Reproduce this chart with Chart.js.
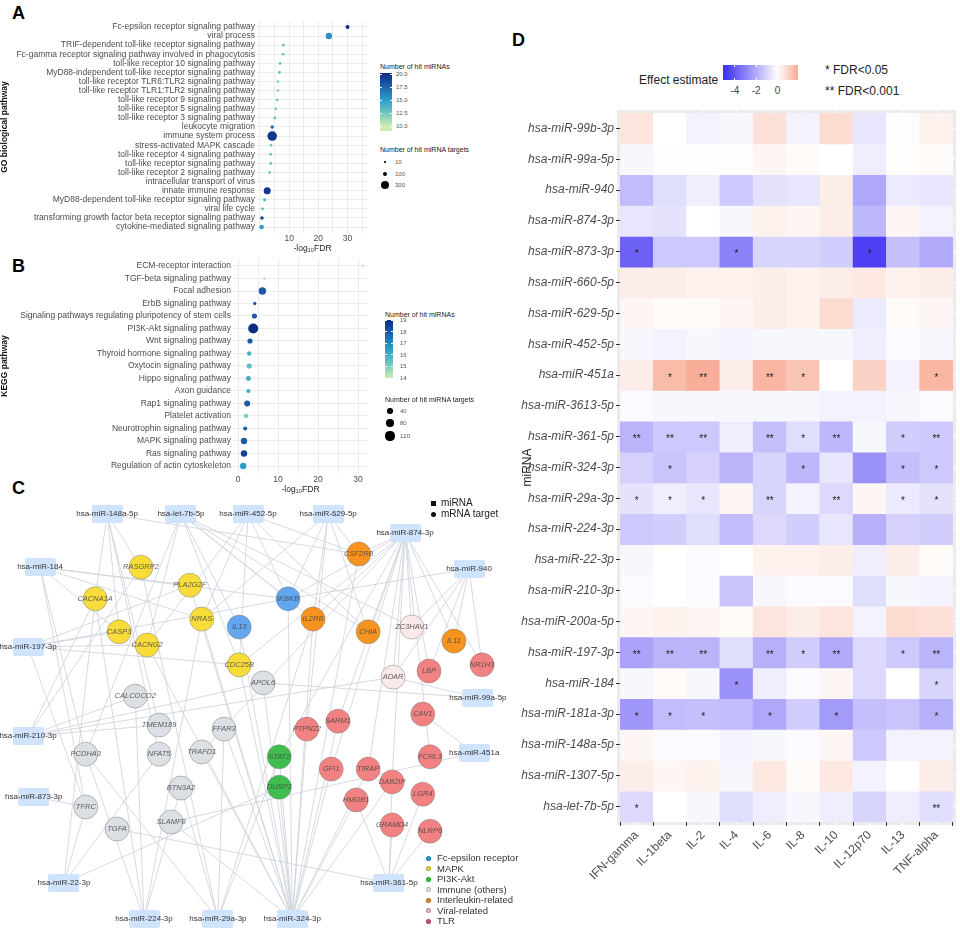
<!DOCTYPE html>
<html>
<head>
<meta charset="utf-8">
<script src="https://cdn.jsdelivr.net/npm/chart.js@4.4.1/dist/chart.umd.min.js"></script>
<style>
  html, body { margin: 0; background: #fff; }
  #fig { position: relative; width: 960px; height: 935px; overflow: hidden; font-family: "Liberation Sans", Arial, sans-serif; }
  canvas { position: absolute; }
  .t { position: absolute; white-space: nowrap; line-height: 1; transform: translateY(-50%); color: #222; }
  .tag { position: absolute; font-weight: bold; font-size: 18px; color: #000; line-height: 1; }
</style>
</head>
<body>
<div id="fig">
  <div class="tag" style="left:12px;top:4px">A</div>
  <div class="tag" style="left:12px;top:257px">B</div>
  <div class="tag" style="left:12px;top:479px">C</div>
  <div class="tag" style="left:512px;top:31px">D</div>
  <canvas id="goChart" width="375" height="240" style="left:0;top:14px"></canvas>
  <canvas id="keggChart" width="375" height="245" style="left:0;top:250px"></canvas>
  <canvas id="netChart" width="520" height="440" style="left:0;top:495px"></canvas>
  <canvas id="heatChart" width="440" height="835" style="left:520px;top:100px"></canvas>
</div>
<script>
const FONT = '"Liberation Sans", Arial, sans-serif';
Chart.defaults.font.family = FONT;
Chart.defaults.plugins.legend.display = false;
Chart.defaults.plugins.tooltip.enabled = false;

// ---- A: GO biological pathway ----
const goTerms = [
  'Fc-epsilon receptor signaling pathway', 'viral process',
  'TRIF-dependent toll-like receptor signaling pathway',
  'Fc-gamma receptor signaling pathway involved in phagocytosis',
  'toll-like receptor 10 signaling pathway', 'MyD88-independent toll-like receptor signaling pathway',
  'toll-like receptor TLR6:TLR2 signaling pathway', 'toll-like receptor TLR1:TLR2 signaling pathway',
  'toll-like receptor 9 signaling pathway', 'toll-like receptor 5 signaling pathway',
  'toll-like receptor 3 signaling pathway', 'leukocyte migration', 'immune system process',
  'stress-activated MAPK cascade', 'toll-like receptor 4 signaling pathway',
  'toll-like receptor signaling pathway', 'toll-like receptor 2 signaling pathway',
  'intracellular transport of virus', 'innate immune response',
  'MyD88-dependent toll-like receptor signaling pathway', 'viral life cycle',
  'transforming growth factor beta receptor signaling pathway', 'cytokine-mediated signaling pathway'
];
const goFdr = [30.0, 23.6, 8.0, 7.9, 6.9, 6.7, 6.2, 6.2, 5.9, 5.4, 5.1, 4.2, 4.2, 3.8, 3.7, 3.7, 3.3, 2.9, 2.5, 1.6, 0.9, 0.7, 0.6];
const goHits = [20, 15.5, 13, 13, 13, 13, 12.5, 12.5, 13, 13, 13, 17.5, 19.5, 13, 13, 13, 13, 10, 19.5, 13.5, 13, 19, 15];
const goTargets = [65, 165, 30, 30, 28, 30, 25, 25, 28, 28, 28, 45, 370, 28, 30, 30, 28, 8, 200, 40, 35, 50, 80];
const goHitTicks = [20, 17.5, 15, 12.5, 10];
const goSizeTicks = [10, 100, 300];

// ---- B: KEGG pathway ----
const keggTerms = [
  'ECM-receptor interaction', 'TGF-beta signaling pathway', 'Focal adhesion', 'ErbB signaling pathway',
  'Signaling pathways regulating pluripotency of stem cells', 'PI3K-Akt signaling pathway',
  'Wnt signaling pathway', 'Thyroid hormone signaling pathway', 'Oxytocin signaling pathway',
  'Hippo signaling pathway', 'Axon guidance', 'Rap1 signaling pathway', 'Platelet activation',
  'Neurotrophin signaling pathway', 'MAPK signaling pathway', 'Ras signaling pathway',
  'Regulation of actin cytoskeleton'
];
const keggFdr = [31.2, 6.6, 6.1, 4.2, 4.1, 3.8, 3.0, 2.8, 2.8, 2.6, 2.6, 2.3, 2.0, 1.8, 1.5, 1.5, 1.3];
const keggHits = [14, 15, 18, 18, 18, 19, 18, 16, 15.5, 16, 16, 18, 15, 18, 18, 18.5, 16.5];
const keggTargets = [8, 5, 78, 15, 38, 140, 38, 27, 38, 35, 25, 51, 30, 23, 58, 58, 58];
const keggHitTicks = [19, 18, 17, 16, 15, 14];
const keggSizeTicks = [40, 80, 120];

// ---- C: network (layout coordinates 0-100) ----
const mirNames = ['hsa-miR-148a-5p', 'hsa-let-7b-5p', 'hsa-miR-452-5p', 'hsa-miR-629-5p', 'hsa-miR-874-3p',
  'hsa-miR-940', 'hsa-miR-184', 'hsa-miR-197-3p', 'hsa-miR-99a-5p', 'hsa-miR-451a', 'hsa-miR-210-3p',
  'hsa-miR-873-3p', 'hsa-miR-22-3p', 'hsa-miR-224-3p', 'hsa-miR-29a-3p', 'hsa-miR-324-3p', 'hsa-miR-361-5p'];
const mirX = [20.6, 34.8, 47.7, 63.1, 77.9, 90.2, 7.7, 5.4, 91.9, 91.2, 5.4, 6.5, 12.3, 27.7, 41.9, 56.2, 74.8];
const mirY = [4.3, 4.3, 4.3, 4.3, 8.6, 16.8, 16.4, 34.5, 46.1, 58.6, 54.8, 68.6, 88.2, 96.4, 96.4, 96.4, 88.2];

const geneNames = ['RASGRP2', 'PLA2G2F', 'CACNA1A', 'NRAS', 'CASP3', 'CACNG2', 'CDC25B',
  'IL13', 'IKBKB', 'CSF2RB', 'IL2RB', 'CHIA', 'IL11', 'ZC3HAV1', 'ADAR',
  'LBP', 'NR1H3', 'CAV1', 'SARM1', 'PTPN22', 'FCRL3', 'GFI1', 'TIRAP', 'DAB2IP', 'LGR4', 'HMGB1', 'GRAMD4', 'NLRP6',
  'STAT2', 'DUSP3',
  'APOL6', 'CALCOCO2', 'TMEM189', 'FFAR3', 'PCDHA3', 'NFAT5', 'TRAFD1', 'BTN3A2', 'TFRC', 'TGFA', 'SLAMF8'];
const geneGroup = ['MAPK', 'MAPK', 'MAPK', 'MAPK', 'MAPK', 'MAPK', 'MAPK',
  'Fc', 'Fc', 'IL', 'IL', 'IL', 'IL', 'Viral', 'Viral',
  'TLR', 'TLR', 'TLR', 'TLR', 'TLR', 'TLR', 'TLR', 'TLR', 'TLR', 'TLR', 'TLR', 'TLR', 'TLR',
  'PI3K', 'PI3K',
  'Imm', 'Imm', 'Imm', 'Imm', 'Imm', 'Imm', 'Imm', 'Imm', 'Imm', 'Imm', 'Imm'];
const geneX = [27.1, 36.5, 18.3, 38.8, 22.9, 28.3, 46.0, 46.0, 55.4, 69.0, 60.2, 70.8, 87.3, 79.2, 75.6,
  82.5, 92.7, 81.3, 65.0, 59.0, 82.7, 63.7, 70.8, 75.4, 81.3, 68.5, 75.4, 82.7, 53.7, 53.7,
  50.6, 26.0, 30.6, 43.1, 16.5, 30.6, 38.8, 34.8, 16.5, 22.5, 32.9];
const geneY = [16.4, 20.5, 23.6, 28.2, 31.1, 34.1, 38.6, 30.0, 23.6, 13.4, 28.2, 31.1, 33.2, 30.0, 41.4,
  40.0, 38.6, 49.8, 51.4, 53.2, 59.5, 62.3, 62.3, 65.2, 68.0, 69.3, 75.0, 76.4, 59.5, 66.4,
  42.7, 45.7, 52.3, 53.2, 58.9, 58.9, 58.4, 66.6, 70.9, 75.9, 74.3];

const edges = [
  ['hsa-miR-148a-5p', 'RASGRP2'], ['hsa-miR-148a-5p', 'CACNA1A'], ['hsa-miR-148a-5p', 'CASP3'], ['hsa-miR-148a-5p', 'NFAT5'],
  ['hsa-miR-148a-5p', 'CSF2RB'], ['hsa-miR-148a-5p', 'TMEM189'],
  ['hsa-let-7b-5p', 'CACNG2'], ['hsa-let-7b-5p', 'IL13'], ['hsa-let-7b-5p', 'IKBKB'], ['hsa-let-7b-5p', 'CHIA'],
  ['hsa-let-7b-5p', 'PCDHA3'], ['hsa-let-7b-5p', 'CDC25B'], ['hsa-let-7b-5p', 'ZC3HAV1'], ['hsa-let-7b-5p', 'IL2RB'],
  ['hsa-miR-184', 'PLA2G2F'], ['hsa-miR-184', 'IKBKB'], ['hsa-miR-184', 'TFRC'], ['hsa-miR-184', 'PCDHA3'],
  ['hsa-miR-184', 'CASP3'], ['hsa-miR-184', 'NRAS'],
  ['hsa-miR-197-3p', 'CASP3'], ['hsa-miR-197-3p', 'CACNG2'], ['hsa-miR-197-3p', 'PLA2G2F'], ['hsa-miR-197-3p', 'IKBKB'],
  ['hsa-miR-197-3p', 'CDC25B'], ['hsa-miR-197-3p', 'TFRC'],
  ['hsa-miR-210-3p', 'CALCOCO2'], ['hsa-miR-210-3p', 'TMEM189'], ['hsa-miR-210-3p', 'CACNA1A'], ['hsa-miR-210-3p', 'APOL6'],
  ['hsa-miR-210-3p', 'RASGRP2'], ['hsa-miR-210-3p', 'ADAR'],
  ['hsa-miR-873-3p', 'TFRC'],
  ['hsa-miR-22-3p', 'TFRC'], ['hsa-miR-22-3p', 'NFAT5'], ['hsa-miR-22-3p', 'CACNA1A'], ['hsa-miR-22-3p', 'DUSP3'],
  ['hsa-miR-224-3p', 'CACNA1A'], ['hsa-miR-224-3p', 'CALCOCO2'], ['hsa-miR-224-3p', 'PCDHA3'], ['hsa-miR-224-3p', 'BTN3A2'],
  ['hsa-miR-224-3p', 'NRAS'],
  ['hsa-miR-29a-3p', 'BTN3A2'], ['hsa-miR-29a-3p', 'PCDHA3'], ['hsa-miR-29a-3p', 'FFAR3'], ['hsa-miR-29a-3p', 'RASGRP2'],
  ['hsa-miR-29a-3p', 'IL2RB'], ['hsa-miR-29a-3p', 'STAT2'],
  ['hsa-miR-324-3p', 'NRAS'], ['hsa-miR-324-3p', 'CDC25B'], ['hsa-miR-324-3p', 'IL13'], ['hsa-miR-324-3p', 'IKBKB'],
  ['hsa-miR-324-3p', 'IL2RB'], ['hsa-miR-324-3p', 'STAT2'], ['hsa-miR-324-3p', 'DUSP3'], ['hsa-miR-324-3p', 'GFI1'],
  ['hsa-miR-324-3p', 'PTPN22'], ['hsa-miR-324-3p', 'HMGB1'], ['hsa-miR-324-3p', 'TIRAP'], ['hsa-miR-324-3p', 'FFAR3'],
  ['hsa-miR-324-3p', 'TRAFD1'], ['hsa-miR-324-3p', 'SLAMF8'], ['hsa-miR-324-3p', 'APOL6'], ['hsa-miR-324-3p', 'CSF2RB'],
  ['hsa-miR-324-3p', 'CACNG2'], ['hsa-miR-324-3p', 'PLA2G2F'], ['hsa-miR-324-3p', 'DAB2IP'], ['hsa-miR-324-3p', 'SARM1'],
  ['hsa-miR-361-5p', 'LGR4'], ['hsa-miR-361-5p', 'HMGB1'], ['hsa-miR-361-5p', 'DAB2IP'], ['hsa-miR-361-5p', 'TGFA'],
  ['hsa-miR-361-5p', 'NLRP6'], ['hsa-miR-361-5p', 'GRAMD4'],
  ['hsa-miR-451a', 'CAV1'], ['hsa-miR-451a', 'SLAMF8'],
  ['hsa-miR-99a-5p', 'APOL6'], ['hsa-miR-99a-5p', 'ADAR'],
  ['hsa-miR-940', 'LBP'], ['hsa-miR-940', 'NR1H3'], ['hsa-miR-940', 'IL11'], ['hsa-miR-940', 'ZC3HAV1'],
  ['hsa-miR-940', 'IKBKB'], ['hsa-miR-940', 'ADAR'],
  ['hsa-miR-874-3p', 'IKBKB'], ['hsa-miR-874-3p', 'IL2RB'], ['hsa-miR-874-3p', 'CHIA'], ['hsa-miR-874-3p', 'ZC3HAV1'],
  ['hsa-miR-874-3p', 'IL11'], ['hsa-miR-874-3p', 'NR1H3'], ['hsa-miR-874-3p', 'ADAR'], ['hsa-miR-874-3p', 'CDC25B'],
  ['hsa-miR-874-3p', 'CSF2RB'], ['hsa-miR-874-3p', 'STAT2'], ['hsa-miR-874-3p', 'GFI1'], ['hsa-miR-874-3p', 'SARM1'],
  ['hsa-miR-874-3p', 'TIRAP'], ['hsa-miR-874-3p', 'DAB2IP'], ['hsa-miR-874-3p', 'LBP'], ['hsa-miR-874-3p', 'FCRL3'],
  ['hsa-miR-874-3p', 'TRAFD1'],
  ['hsa-miR-629-5p', 'IKBKB'], ['hsa-miR-629-5p', 'IL2RB'], ['hsa-miR-629-5p', 'CSF2RB'], ['hsa-miR-629-5p', 'CHIA'],
  ['hsa-miR-629-5p', 'NRAS'], ['hsa-miR-629-5p', 'PTPN22'],
  ['hsa-miR-452-5p', 'NRAS'], ['hsa-miR-452-5p', 'IKBKB'], ['hsa-miR-452-5p', 'CHIA'], ['hsa-miR-452-5p', 'CSF2RB'],
  ['hsa-miR-452-5p', 'CDC25B'], ['hsa-miR-452-5p', 'CACNG2']
];

// ---- D: heatmap ----
const cytokines = ['IFN-gamma', 'IL-1beta', 'IL-2', 'IL-4', 'IL-6', 'IL-8', 'IL-10', 'IL-12p70', 'IL-13', 'TNF-alpha'];
const heatRows = ['hsa-miR-99b-3p', 'hsa-miR-99a-5p', 'hsa-miR-940', 'hsa-miR-874-3p', 'hsa-miR-873-3p',
  'hsa-miR-660-5p', 'hsa-miR-629-5p', 'hsa-miR-452-5p', 'hsa-miR-451a', 'hsa-miR-3613-5p', 'hsa-miR-361-5p',
  'hsa-miR-324-3p', 'hsa-miR-29a-3p', 'hsa-miR-224-3p', 'hsa-miR-22-3p', 'hsa-miR-210-3p', 'hsa-miR-200a-5p',
  'hsa-miR-197-3p', 'hsa-miR-184', 'hsa-miR-181a-3p', 'hsa-miR-148a-5p', 'hsa-miR-1307-5p', 'hsa-let-7b-5p'];
const effects = [
  [0.6, 0.0, -0.3, -0.2, 0.7, -0.3, 0.8, -0.6, -0.05, 0.3],
  [-0.2, -0.05, -0.05, -0.05, 0.2, 0.1, 0.0, -0.4, 0.05, 0.1],
  [-1.6, -0.8, -0.4, -1.3, -0.7, -0.6, 0.4, -2.1, -0.5, -0.6],
  [-0.6, -0.7, 0.0, -0.2, 0.3, 0.2, 0.4, -1.7, 0.2, -0.3],
  [-3.8, -1.3, -1.3, -3.0, -1.0, -1.0, -1.2, -4.6, -1.5, -2.0],
  [0.4, 0.4, 0.3, 0.3, 0.4, 0.3, 0.4, 0.5, 0.3, 0.4],
  [0.2, 0.1, 0.1, 0.2, 0.4, 0.3, 0.8, -0.5, 0.1, 0.2],
  [-0.2, -0.3, -0.2, -0.3, -0.2, -0.2, -0.2, -0.4, -0.1, -0.2],
  [0.4, 1.5, 1.8, 0.4, 1.6, 1.3, 0.0, 1.0, -0.3, 1.6],
  [-0.1, -0.2, -0.2, -0.2, -0.2, -0.2, -0.3, -0.3, -0.2, -0.1],
  [-1.8, -1.3, -1.3, -0.4, -1.5, -0.8, -1.7, -0.2, -1.2, -1.3],
  [-1.1, -1.4, -1.1, -1.8, -1.0, -1.7, -0.6, -2.6, -1.5, -1.3],
  [-0.7, -0.4, -0.6, 0.2, -1.0, -0.3, -0.9, 0.2, -0.5, -0.7],
  [-1.3, -1.2, -0.8, -1.6, -0.9, -1.2, -0.6, -1.9, -1.1, -1.2],
  [-0.2, 0.0, -0.1, 0.0, 0.3, 0.3, 0.4, -0.4, 0.4, 0.1],
  [-0.1, 0.0, -0.1, -1.4, -0.2, -0.1, -0.1, -0.8, -0.2, -0.3],
  [0.2, 0.3, 0.2, 0.1, 0.6, 0.4, 0.6, -0.3, 0.8, 0.7],
  [-2.2, -1.8, -1.8, -0.8, -1.9, -1.2, -2.0, -0.9, -1.3, -1.8],
  [-0.2, 0.1, -0.2, -2.6, -0.4, -0.1, 0.2, -0.9, 0.0, -1.0],
  [-2.5, -1.6, -1.5, -1.6, -2.1, -1.2, -2.4, -1.5, -1.4, -1.9],
  [0.2, -0.1, -0.1, -0.3, -0.2, -0.1, 0.2, -1.3, -0.3, -0.3],
  [0.4, 0.2, 0.3, -0.2, 0.5, 0.1, 0.5, -0.3, 0.0, 0.4],
  [-0.9, 0.0, -0.2, -0.8, -0.4, -0.2, -0.4, -1.0, -0.4, -0.8]
];
// 0 = n.s., 1 = FDR<0.05, 2 = FDR<0.001
const signif = [
  [0, 0, 0, 0, 0, 0, 0, 0, 0, 0],
  [0, 0, 0, 0, 0, 0, 0, 0, 0, 0],
  [0, 0, 0, 0, 0, 0, 0, 0, 0, 0],
  [0, 0, 0, 0, 0, 0, 0, 0, 0, 0],
  [1, 0, 0, 1, 0, 0, 0, 1, 0, 0],
  [0, 0, 0, 0, 0, 0, 0, 0, 0, 0],
  [0, 0, 0, 0, 0, 0, 0, 0, 0, 0],
  [0, 0, 0, 0, 0, 0, 0, 0, 0, 0],
  [0, 1, 2, 0, 2, 1, 0, 0, 0, 1],
  [0, 0, 0, 0, 0, 0, 0, 0, 0, 0],
  [2, 2, 2, 0, 2, 1, 2, 0, 1, 2],
  [0, 1, 0, 0, 0, 1, 0, 0, 1, 1],
  [1, 1, 1, 0, 2, 0, 2, 0, 1, 1],
  [0, 0, 0, 0, 0, 0, 0, 0, 0, 0],
  [0, 0, 0, 0, 0, 0, 0, 0, 0, 0],
  [0, 0, 0, 0, 0, 0, 0, 0, 0, 0],
  [0, 0, 0, 0, 0, 0, 0, 0, 0, 0],
  [2, 2, 2, 0, 2, 1, 2, 0, 1, 2],
  [0, 0, 0, 1, 0, 0, 0, 0, 0, 1],
  [1, 1, 1, 0, 1, 0, 1, 0, 0, 1],
  [0, 0, 0, 0, 0, 0, 0, 0, 0, 0],
  [0, 0, 0, 0, 0, 0, 0, 0, 0, 0],
  [1, 0, 0, 0, 0, 0, 0, 0, 0, 2]
];
const effectTicks = [-4, -2, 0];

// ---------- colour helpers ----------
const ramp = [[0, [205, 236, 178]], [0.25, [112, 198, 190]], [0.5, [42, 158, 200]], [0.75, [33, 100, 172]], [1, [12, 44, 132]]];
function rampColor(t) {
  t = Math.max(0, Math.min(1, t));
  for (let i = 1; i < ramp.length; i++) {
    if (t <= ramp[i][0]) {
      const a = ramp[i - 1], b = ramp[i], f = (t - a[0]) / (b[0] - a[0]);
      return 'rgb(' + a[1].map((c, k) => Math.round(c + (b[1][k] - c) * f)).join(',') + ')';
    }
  }
  return 'rgb(' + ramp[ramp.length - 1][1].join(',') + ')';
}
function mix(a, b, t) {
  return 'rgb(' + a.map((c, k) => Math.round(c + (b[k] - c) * t)).join(',') + ')';
}
function heatColor(v) {
  if (v < 0) return mix([255, 255, 255], [62, 46, 242], Math.min(1, -v / 5));
  return mix([255, 255, 255], [247, 165, 140], Math.min(1, v / 2));
}
const groupFill = {MAPK: '#f8dc3a', Fc: '#62a6ef', IL: '#f7931f', Viral: '#fbe9e9', TLR: '#f28282', PI3K: '#3fbd4e', Imm: '#dcdfe4'};

// ---------- html legend helpers ----------
const fig = document.getElementById('fig');
function addText(x, y, str, size, extra) {
  const d = document.createElement('div');
  d.className = 't';
  d.textContent = str;
  d.style.left = x + 'px';
  d.style.top = y + 'px';
  d.style.fontSize = size + 'px';
  if (extra) Object.assign(d.style, extra);
  fig.appendChild(d);
  return d;
}
function addBox(x, y, w, h, style) {
  const d = document.createElement('div');
  Object.assign(d.style, {position: 'absolute', left: x + 'px', top: y + 'px', width: w + 'px', height: h + 'px'}, style);
  fig.appendChild(d);
  return d;
}
function barGradient(lo, hi, top, bottom, colorOf) {
  const stops = [];
  for (let i = 0; i <= 10; i++) {
    const v = top + (bottom - top) * i / 10;
    stops.push(colorOf(v) + ' ' + (i * 10) + '%');
  }
  return 'linear-gradient(to bottom,' + stops.join(',') + ')';
}

const radiusGo = n => Math.max(0.8, 4.3 * Math.sqrt(n / 300));
const radiusKegg = n => Math.max(0.8, 0.42 * Math.sqrt(n));

// ---------- dot charts (A, B) ----------
function dotChart(id, terms, fdr, hits, targets, o) {
  return new Chart(document.getElementById(id), {
    type: 'bubble',
    data: {
      datasets: [{
        data: terms.map((t, i) => ({x: fdr[i], y: i, r: o.radius(targets[i])})),
        backgroundColor: hits.map(h => rampColor((h - o.lo) / (o.hi - o.lo))),
        borderWidth: 0
      }]
    },
    options: {
      responsive: false, animation: false, devicePixelRatio: 1,
      layout: {autoPadding: false, padding: {top: o.padTop, right: 7, left: 0, bottom: 0}},
      scales: {
        x: {
          type: 'linear', min: o.xmin, max: o.xmax,
          afterBuildTicks: s => { s.ticks = [0, 5, 10, 15, 20, 25, 30, 35].filter(v => v >= o.xmin && v <= o.xmax).map(v => ({value: v})); },
          ticks: {callback: v => o.xlabels.includes(v) ? String(v) : '', font: {size: 8.5}, color: '#4d4d4d', padding: 1, maxRotation: 0, autoSkip: false},
          grid: {color: '#ececec', drawTicks: false},
          border: {display: false},
          title: {display: true, text: '-log\u2081\u2080FDR', font: {size: 8.5}, color: '#222', padding: 0},
          afterFit: s => { s.height = o.xh; }
        },
        y: {
          type: 'linear', min: -0.6, max: terms.length - 0.4, reverse: true,
          afterBuildTicks: s => { s.ticks = terms.map((t, i) => ({value: i})); },
          ticks: {callback: v => terms[v], font: {size: 8.5}, color: '#4d4d4d', padding: 2, autoSkip: false},
          grid: {color: '#ececec', drawTicks: false},
          border: {display: false},
          title: {display: true, text: o.ytitle, font: {size: 8.5, weight: 'bold'}, color: '#111', padding: 0},
          afterFit: s => { s.width = o.yw; }
        }
      }
    }
  });
}

dotChart('goChart', goTerms, goFdr, goHits, goTargets, {
  radius: radiusGo, lo: 10, hi: 20, padTop: 7.5, xmin: -1, xmax: 37, xlabels: [10, 20, 30], xh: 21.5, yw: 257,
  ytitle: 'GO biological pathway'
});
dotChart('keggChart', keggTerms, keggFdr, keggHits, keggTargets, {
  radius: radiusKegg, lo: 14, hi: 19, padTop: 8.5, xmin: -1.25, xmax: 32.5, xlabels: [0, 10, 20, 30], xh: 21.5, yw: 233,
  ytitle: 'KEGG pathway'
});

// legend A
addText(380, 66, 'Number of hit miRNAs', 7);
addBox(380, 73, 12, 58, {background: barGradient(10, 20, 20.2, 9.0, v => rampColor((v - 10) / 10))});
goHitTicks.forEach(v => {
  const y = 74 + (20 - v) * 5.2;
  addText(396, y, v.toFixed(1), 6, {color: '#555'});
  addBox(380, y - 0.5, 2, 1, {background: '#fff'});
  addBox(390, y - 0.5, 2, 1, {background: '#fff'});
});
addText(380, 149, 'Number of hit miRNA targets', 7);
goSizeTicks.forEach((n, i) => {
  const r = radiusGo(n), y = [162, 174, 185][i];
  addBox(385 - r, y - r, 2 * r, 2 * r, {background: '#000', borderRadius: '50%'});
  addText(395, y, String(n), 6, {color: '#555'});
});

// legend B
addText(385, 314, 'Number of hit miRNAs', 7);
addBox(385, 320, 8, 58, {background: barGradient(14, 19, 19, 14, v => rampColor((v - 14) / 5))});
keggHitTicks.forEach(v => {
  const y = 320 + (19 - v) * 11.6;
  addText(400, y, String(v), 6, {color: '#555'});
  addBox(385, y - 0.5, 2, 1, {background: '#fff'});
  addBox(391, y - 0.5, 2, 1, {background: '#fff'});
});
addText(385, 399, 'Number of hit miRNA targets', 7);
keggSizeTicks.forEach((n, i) => {
  const r = radiusKegg(n), y = [411, 423, 436][i];
  addBox(390 - r, y - r, 2 * r, 2 * r, {background: '#000', borderRadius: '50%'});
  addText(400, y, String(n), 6, {color: '#555'});
});

// ---------- C: network ----------
const mirIndex = {}, geneIndex = {};
mirNames.forEach((n, i) => { mirIndex[n] = i; });
geneNames.forEach((n, i) => { geneIndex[n] = i; });
const nodePos = name => name in mirIndex
  ? {x: mirX[mirIndex[name]], y: mirY[mirIndex[name]]}
  : {x: geneX[geneIndex[name]], y: geneY[geneIndex[name]]};

const rectImg = document.createElement('canvas');
rectImg.width = 31; rectImg.height = 18;
(() => {
  const c = rectImg.getContext('2d');
  c.fillStyle = '#cfe3fc';
  c.beginPath();
  c.roundRect(0, 0, 31, 18, 2);
  c.fill();
})();

const netLabels = {
  id: 'netLabels',
  afterDatasetsDraw(chart) {
    const {ctx, scales: {x, y}} = chart;
    ctx.save();
    ctx.textAlign = 'center';
    ctx.textBaseline = 'middle';
    ctx.font = '8px ' + FONT;
    ctx.fillStyle = '#333';
    mirNames.forEach((n, i) => ctx.fillText(n, x.getPixelForValue(mirX[i]), y.getPixelForValue(mirY[i])));
    ctx.font = 'italic 7.5px ' + FONT;
    ctx.fillStyle = 'rgba(70,70,70,0.85)';
    geneNames.forEach((n, i) => ctx.fillText(n, x.getPixelForValue(geneX[i]), y.getPixelForValue(geneY[i])));
    ctx.restore();
  }
};

new Chart(document.getElementById('netChart'), {
  type: 'scatter',
  data: {
    datasets: [
      ...edges.map(([a, b]) => ({
        data: [nodePos(a), nodePos(b)], showLine: true, borderColor: '#ccd1d9', borderWidth: 0.8,
        pointRadius: 0, order: 3
      })),
      {
        data: mirNames.map((n, i) => ({x: mirX[i], y: mirY[i]})),
        pointStyle: rectImg, pointRadius: 10, order: 2
      },
      {
        data: geneNames.map((n, i) => ({x: geneX[i], y: geneY[i]})),
        pointStyle: 'circle', pointRadius: 12,
        backgroundColor: geneGroup.map(g => groupFill[g]),
        borderColor: 'rgba(120,120,120,0.6)', borderWidth: 0.8, order: 1
      }
    ]
  },
  options: {
    responsive: false, animation: false, devicePixelRatio: 1,
    layout: {autoPadding: false, padding: 0},
    scales: {
      x: {type: 'linear', min: 0, max: 100, display: false},
      y: {type: 'linear', min: 0, max: 100, reverse: true, display: false}
    }
  },
  plugins: [netLabels]
});

// legend C
addBox(431, 500.5, 5, 5, {background: '#111'});
addText(441, 503, 'miRNA', 10);
addBox(431, 511.5, 5, 5, {background: '#111', borderRadius: '50%'});
addText(441, 514, 'mRNA target', 10);
const groupLegend = [['Fc-epsilon receptor', '#1aa6d8'], ['MAPK', '#e6dd3a'], ['PI3K-Akt', '#2ecb30'],
  ['Immune (others)', '#e3eaee'], ['Interleukin-related', '#e28f22'], ['Viral-related', '#f2b7bf'], ['TLR', '#d84b8b']];
groupLegend.forEach(([name, col], i) => {
  const y = 858 + i * 10.5;
  addBox(426, y - 2.5, 5, 5, {background: col, borderRadius: '50%', boxSizing: 'border-box', border: '0.5px solid rgba(0,0,0,0.25)'});
  addText(437, y, name, 9.5, {color: '#333'});
});

// ---------- D: heatmap ----------
const panelBg = {
  id: 'panelBg',
  beforeDraw(chart) {
    const {ctx, chartArea: a, scales: {x, y}} = chart;
    ctx.save();
    ctx.fillStyle = '#ebebeb';
    ctx.fillRect(a.left - 3, a.top - 3, a.right - a.left + 6, a.bottom - a.top + 6);
    ctx.strokeStyle = '#fff';
    ctx.lineWidth = 1;
    ctx.beginPath();
    cytokines.forEach((c, i) => { const px = x.getPixelForValue(i); ctx.moveTo(px, a.top - 3); ctx.lineTo(px, a.bottom + 3); });
    heatRows.forEach((r, i) => { const py = y.getPixelForValue(i); ctx.moveTo(a.left - 3, py); ctx.lineTo(a.right + 3, py); });
    ctx.stroke();
    ctx.restore();
  }
};
const heatStars = {
  id: 'heatStars',
  afterDatasetsDraw(chart) {
    const {ctx, scales: {x, y}} = chart;
    ctx.save();
    ctx.font = '10px ' + FONT;
    ctx.fillStyle = '#222';
    ctx.textAlign = 'center';
    ctx.textBaseline = 'middle';
    signif.forEach((row, r) => row.forEach((s, c) => {
      if (s) ctx.fillText('*'.repeat(s), x.getPixelForValue(c), y.getPixelForValue(r) + 3);
    }));
    ctx.restore();
  }
};

new Chart(document.getElementById('heatChart'), {
  type: 'bar',
  data: {
    labels: cytokines,
    datasets: heatRows.map((name, r) => ({
      label: name,
      data: cytokines.map(() => [r - 0.5, r + 0.5]),
      backgroundColor: effects[r].map(heatColor),
      borderWidth: 0, barPercentage: 1, categoryPercentage: 1, grouped: false
    }))
  },
  options: {
    responsive: false, animation: false, devicePixelRatio: 1,
    layout: {padding: {top: 13, right: 7, left: 0, bottom: 0}},
    scales: {
      x: {
        ticks: {minRotation: 45, maxRotation: 45, font: {size: 12}, color: '#4d4d4d', padding: 2, autoSkip: false},
        grid: {drawOnChartArea: false, tickLength: 4, color: '#333'},
        border: {display: false},
        afterFit: s => { s.height = 113; }
      },
      y: {
        type: 'linear', min: -0.5, max: heatRows.length - 0.5, reverse: true,
        afterBuildTicks: s => { s.ticks = heatRows.map((r, i) => ({value: i})); },
        ticks: {callback: v => heatRows[v], font: {size: 12, style: 'italic'}, color: '#4d4d4d', padding: 2, autoSkip: false},
        grid: {drawOnChartArea: false, tickLength: 4, color: '#333'},
        border: {display: false},
        title: {display: true, text: 'miRNA', font: {size: 12}, color: '#222', padding: 0},
        afterFit: s => { s.width = 100; }
      }
    }
  },
  plugins: [panelBg, heatStars]
});

// legend D
addText(639, 80, 'Effect estimate', 12);
(() => {
  const stops = [];
  for (let i = 0; i <= 14; i++) {
    const v = -5.1 + 7 * i / 14;
    stops.push(heatColor(v) + ' ' + (i / 14 * 100).toFixed(1) + '%');
  }
  addBox(723, 65, 75, 15, {background: 'linear-gradient(to right,' + stops.join(',') + ')'});
  effectTicks.forEach(v => {
    const x = 723 + (v + 5.1) / 7 * 75;
    addBox(x - 0.5, 65, 1, 2, {background: '#fff'});
    addBox(x - 0.5, 78, 1, 2, {background: '#fff'});
    addText(x, 91, String(v), 10, {color: '#444', transform: 'translate(-50%,-50%)'});
  });
})();
addText(825, 70, '* FDR<0.05', 12);
addText(825, 91, '** FDR<0.001', 12);
</script>
</body>
</html>
